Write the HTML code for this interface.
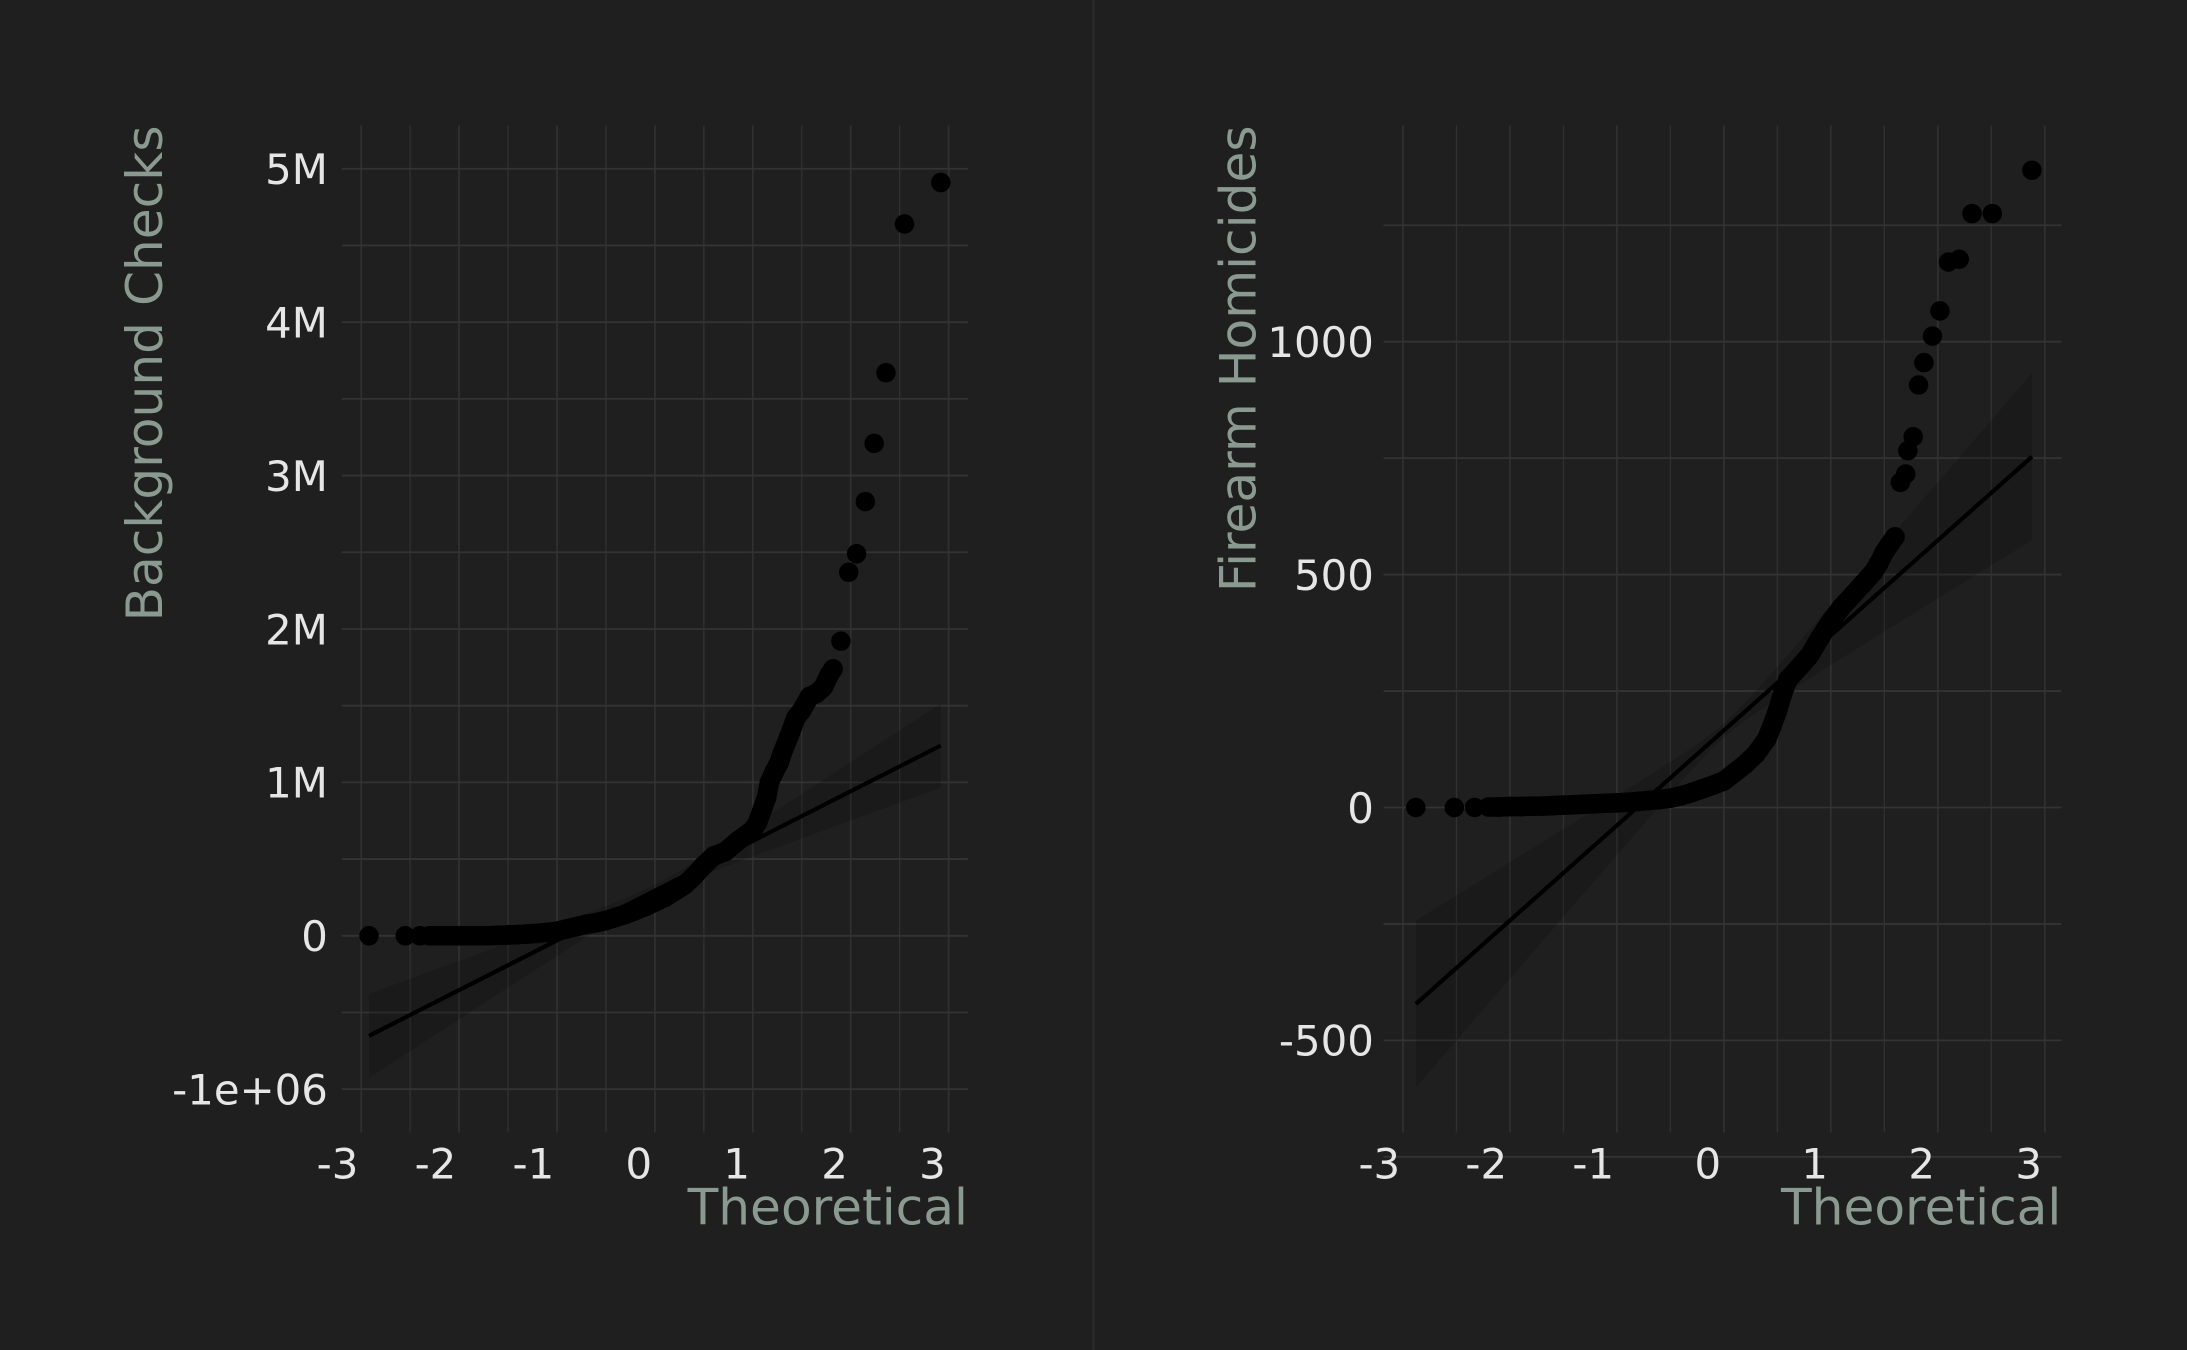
<!DOCTYPE html>
<html><head><meta charset="utf-8"><style>
html,body{margin:0;padding:0;background:#1f1f1f;}
svg{display:block;}
text{font-family:"DejaVu Sans","Liberation Sans",sans-serif;}
</style></head><body>
<svg id="chart" width="2187" height="1350" viewBox="0 0 1568 968" xmlns="http://www.w3.org/2000/svg">
<rect x="0" y="0" width="1568" height="968" fill="#1f1f1f"/>
<line x1="784" y1="0" x2="784" y2="968" stroke="#2c2c2c" stroke-width="1.5"/>
<g id="p1"></g>
<g id="p2"></g>
</svg>
<script>
// Panel 1: Background Checks
const bcTheo = [-2.92,-2.55,-2.4,-2.3,-2.2,-2.1,-2.0,-1.9,-1.8,-1.7,-1.6,-1.5,-1.4,-1.3,-1.2,-1.1,-1.0,-0.9,-0.8,-0.7,-0.6,-0.5,-0.4,-0.3,-0.2,-0.1,0.0,0.1,0.2,0.3,0.4,0.5,0.6,0.72,0.85,1.0,1.05,1.1,1.14,1.17,1.22,1.27,1.3,1.37,1.44,1.5,1.58,1.65,1.72,1.78,1.82,1.9,1.98,2.06,2.15,2.24,2.36,2.55,2.92];
const bcValues = [0,0,0,0,0,0,0,0,0,0,0.003,0.005,0.008,0.012,0.016,0.022,0.03,0.045,0.06,0.075,0.085,0.1,0.12,0.14,0.165,0.19,0.22,0.25,0.29,0.33,0.39,0.46,0.52,0.55,0.62,0.69,0.74,0.83,0.9,1.0,1.07,1.13,1.19,1.3,1.42,1.47,1.56,1.58,1.62,1.7,1.74,1.92,2.37,2.49,2.83,3.21,3.67,4.64,4.91];
const bcTicksX = [-3,-2,-1,0,1,2,3];
const bcTicksY = [-1,0,1,2,3,4,5];
const bcTickLabelsY = ["-1e+06","0","1M","2M","3M","4M","5M"];
const bcFit = [0.294, 0.324];      // intercept, slope (M)
const bcBand = [0.04, 0.093];      // CI half-width params

// Panel 2: Firearm Homicides
const fhTheo = [-2.88,-2.52,-2.33,-2.2,-2.1,-2.0,-1.9,-1.8,-1.7,-1.6,-1.5,-1.4,-1.3,-1.2,-1.1,-1.0,-0.9,-0.8,-0.7,-0.6,-0.5,-0.4,-0.3,-0.2,-0.1,0.0,0.1,0.2,0.3,0.4,0.45,0.5,0.55,0.6,0.7,0.8,0.9,1.0,1.1,1.2,1.3,1.4,1.45,1.5,1.55,1.6,1.65,1.7,1.72,1.77,1.82,1.87,1.95,2.02,2.1,2.2,2.32,2.51,2.88];
const fhValues = [0,0,0,1,1,2,2,3,3,4,5,6,7,8,9,10,11,13,15,17,20,25,32,40,48,57,75,93,115,147,175,207,245,275,300,326,365,400,430,455,480,506,525,548,565,581,698,716,766,796,907,955,1012,1066,1171,1177,1275,1275,1368];
const fhTicksX = [-3,-2,-1,0,1,2,3];
const fhTicksY = [-500,0,500,1000];
const fhTickLabelsY = ["-500","0","500","1000"];
const fhFit = [165.5, 204];
const fhBand = [15, 62];

const NS = "http://www.w3.org/2000/svg";
function mk(parent, tag, attrs, txt){
  const e = document.createElementNS(NS, tag);
  for (const k in attrs) e.setAttribute(k, attrs[k]);
  if (txt !== undefined) e.textContent = txt;
  parent.appendChild(e);
  return e;
}

function drawPanel(g, o){
  const sx = t => o.x0 + t * o.ux;
  const sy = v => o.y0 - v * o.uy;
  for (let t = -3; t <= 3.001; t += 0.5){
    const l = mk(g, "line", {x1:sx(t), y1:90, x2:sx(t), y2:812, stroke: "#303030", "stroke-width": Number.isInteger(t)?1.3:1});
    
    
  }
  for (let v = o.gy0; v <= o.gy1 + 1e-9; v += o.gstep){
    const l = mk(g, "line", {x1:o.gl, y1:sy(v), x2:o.gr, y2:sy(v), stroke:"#333333", "stroke-width":1.3});
    
    
  }
  const pts1 = [], pts2 = [];
  const tA = o.theo[0], tB = o.theo[o.theo.length-1];
  for (let i = 0; i <= 60; i++){
    const t = tA + (tB - tA) * i / 60;
    const m = o.fit[0] + o.fit[1] * t;
    const h = Math.sqrt(o.band[0]*o.band[0] + o.band[1]*o.band[1]*t*t);
    pts1.push(sx(t).toFixed(1) + "," + sy(m + h).toFixed(1));
    pts2.unshift(sx(t).toFixed(1) + "," + sy(m - h).toFixed(1));
  }
  const band = mk(g, "polygon", {points: pts1.concat(pts2).join(" "), fill:"#000", "fill-opacity":0.16});
  
  
  const pg = mk(g, "g", {});
  
  
  for (let i = 0; i < o.theo.length; i++){
    const x = sx(o.theo[i]), y = sy(o.vals[i]);
    if (i > 3){
      const px = sx(o.theo[i-1]), py = sy(o.vals[i-1]);
      if (Math.hypot(x-px, y-py) < 22 && i < o.theo.length - o.outliers){
        const s = mk(pg, "line", {x1:px, y1:py, x2:x, y2:y, stroke:"#000", "stroke-width":14, "stroke-linecap":"round"});
        
        
      }
    }
    const c = mk(pg, "circle", {cx:x, cy:y, r:7, fill:"#000"});
    
    
  }
  const fl = mk(g, "line", {x1:sx(tA), y1:sy(o.fit[0]+o.fit[1]*tA), x2:sx(tB), y2:sy(o.fit[0]+o.fit[1]*tB), stroke:"#000", "stroke-width":3});
  
  
  o.ticksX.forEach(t => {
    const tx = mk(g, "text", {x:sx(t)-2, y:845, "text-anchor":"end", fill:"#e6e6e6", "font-size":30}, String(t));
    
    
  });
  o.ticksY.forEach((v, i) => {
    const ty = mk(g, "text", {x:o.lx, y:sy(v)+11, "text-anchor":"end", fill:"#e6e6e6", "font-size":30}, o.labelsY[i]);
    
    
  });
  const xt = mk(g, "text", {x:o.gr, y:878, "text-anchor":"end", fill:"#8a9a90", "font-size":36}, "Theoretical");
  
  
  const yt = mk(g, "text", {x:0, y:0, "text-anchor":"end", fill:"#8a9a90", "font-size":36, transform:"translate(" + o.ytx + ",90) rotate(-90)"}, o.ytitle);
  
  
}

drawPanel(document.getElementById("p1"), {
  x0:469.5, ux:70.2, y0:671, uy:110, gl:245, gr:694, gy0:-1, gy1:5.25, gstep:0.5, lx:235,
  theo:bcTheo, vals:bcValues, ticksX:bcTicksX, ticksY:bcTicksY, labelsY:bcTickLabelsY,
  fit:bcFit, band:bcBand, outliers:8, ytitle:"Background Checks", ytx:116
});
drawPanel(document.getElementById("p2"), {
  x0:1236, ux:76.7, y0:579, uy:0.334, gl:992, gr:1478, gy0:-750, gy1:1250, gstep:250, lx:985,
  theo:fhTheo, vals:fhValues, ticksX:fhTicksX, ticksY:fhTicksY, labelsY:fhTickLabelsY,
  fit:fhFit, band:fhBand, outliers:13, ytitle:"Firearm Homicides", ytx:900
});
</script>
</body></html>
